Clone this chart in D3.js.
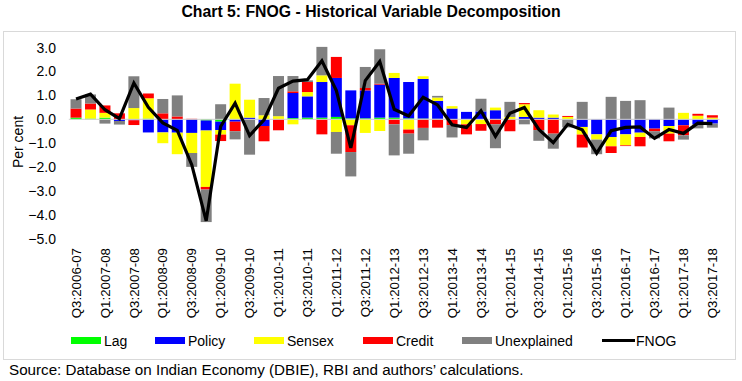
<!DOCTYPE html>
<html>
<head>
<meta charset="utf-8">
<script src="https://cdn.jsdelivr.net/npm/d3@7"></script>
<style>
  html, body { margin: 0; padding: 0; background: #fff; }
  svg { display: block; font-family: "Liberation Sans", Arial, sans-serif; }
</style>
</head>
<body>
<svg id="chart" width="742" height="381"></svg>
<script>
const quarters = [
  "Q3:2006-07","Q4:2006-07","Q1:2007-08","Q2:2007-08","Q3:2007-08","Q4:2007-08",
  "Q1:2008-09","Q2:2008-09","Q3:2008-09","Q4:2008-09",
  "Q1:2009-10","Q2:2009-10","Q3:2009-10","Q4:2009-10",
  "Q1:2010-11","Q2:2010-11","Q3:2010-11","Q4:2010-11",
  "Q1:2011-12","Q2:2011-12","Q3:2011-12","Q4:2011-12",
  "Q1:2012-13","Q2:2012-13","Q3:2012-13","Q4:2012-13",
  "Q1:2013-14","Q2:2013-14","Q3:2013-14","Q4:2013-14",
  "Q1:2014-15","Q2:2014-15","Q3:2014-15","Q4:2014-15",
  "Q1:2015-16","Q2:2015-16","Q3:2015-16","Q4:2015-16",
  "Q1:2016-17","Q2:2016-17","Q3:2016-17","Q4:2016-17",
  "Q1:2017-18","Q2:2017-18","Q3:2017-18"
];
const tickLabels = quarters.filter((q, i) => i % 2 === 0);

const lag = [0.07,0.03,0.07,0,0,0.03,0,0,0,-0.05,-0.1,0,0,0,0,0.05,0.07,0.07,0.1,0.04,0.04,0.07,0.07,0.04,0.03,0.02,0,0,0,0,0,0,0,0,0,0,0,0,0,0,0,0,0,0,0];
const policy = [0,0,0,-0.07,-0.04,-0.55,-0.55,-0.56,-0.57,-0.42,-0.35,-0.1,0.07,-0.28,0,1.05,0.89,1.49,1.63,1.17,1.17,1.38,1.66,1.52,1.66,0.75,0.45,0.31,0.33,0.38,0,0.1,0.07,0.07,0,-0.32,-0.63,-0.74,-0.63,-0.56,-0.39,-0.28,-0.25,-0.21,-0.18];
const sensex = [0,0.38,0.2,0,0.47,0.85,-0.45,-0.9,-0.84,-2.36,-0.19,1.49,0.75,0.17,0.13,-0.21,0.18,0.28,-0.53,-0.25,-0.57,-0.49,0.21,-0.43,0.11,0.14,0.1,-0.21,-0.2,0.11,0.1,0.53,0.31,0.13,0.1,-0.32,-0.22,-0.39,-0.46,-0.18,0,-0.32,0.27,0.15,0.07];
const credit = [0.38,0.25,0.31,0.25,-0.2,0.2,0.25,0.12,0.02,-0.11,-0.27,-0.4,0,-0.64,-0.46,0.07,0.42,-0.63,0.88,-1.12,0.1,0.04,-0.21,-0.17,-0.36,-0.35,-0.24,-0.42,-0.28,-0.21,-0.5,0.05,-0.45,-0.6,0.04,-0.54,0,-0.28,-0.03,-0.39,-0.11,-0.32,-0.42,0.08,0.1];
const unexplained = [0.39,0.38,-0.18,-0.15,1.33,0,0.6,0.88,-0.58,-1.36,0.63,-0.34,-1.48,0.72,1.68,0.64,0.07,1.19,-0.91,-1.02,0.88,1.44,-1.3,-0.84,-0.52,0.07,-0.52,0,0.53,-1.0,0.63,-0.21,-0.45,-0.63,-0.34,0.73,-0.61,0.94,0.77,0.8,-0.3,0.49,-0.18,-0.17,-0.17];
const fnog = [0.85,1.05,0.4,0.03,1.52,0.5,-0.15,-0.46,-1.9,-4.25,-0.3,0.68,-0.68,-0.02,1.3,1.6,1.66,2.45,1.2,-1.2,1.62,2.42,0.42,0.14,0.92,0.6,-0.23,-0.34,0.36,-0.71,0.25,0.49,-0.42,-0.98,-0.21,-0.44,-1.42,-0.48,-0.34,-0.32,-0.8,-0.43,-0.59,-0.16,-0.18];

const seriesNames = ["Lag","Policy","Sensex","Credit","Unexplained"];
const seriesColors = ["#00ff00","#0000ff","#ffff00","#ff0000","#808080"];
const yTicks = [3,2,1,0,-1,-2,-3,-4,-5];

const rows = quarters.map((q, i) => ({
  q, Lag: lag[i], Policy: policy[i], Sensex: sensex[i], Credit: credit[i], Unexplained: unexplained[i]
}));

const svg = d3.select("#chart");

// outer frame
svg.append("rect").attr("x", 3.5).attr("y", 31.5).attr("width", 732).attr("height", 328)
  .attr("fill", "none").attr("stroke", "#d9d9d9").attr("stroke-width", 1);

// title
svg.append("text").attr("x", 371).attr("y", 17).attr("text-anchor", "middle")
  .attr("font-size", 15.8).attr("font-weight", "bold").attr("fill", "#000")
  .text("Chart 5: FNOG - Historical Variable Decomposition");

const x = d3.scaleBand().domain(quarters).range([68.8, 719.6]).paddingInner(0.24).paddingOuter(0.12);
const y = d3.scaleLinear().domain([-5, 3]).range([238.8, 47.6]);

// stacked bars
const stack = d3.stack().keys(seriesNames).offset(d3.stackOffsetDiverging);
const stacked = stack(rows);

svg.append("g").selectAll("g").data(stacked).join("g")
  .attr("fill", (d, i) => seriesColors[i])
  .selectAll("rect").data(d => d).join("rect")
  .attr("x", d => x(d.data.q))
  .attr("width", x.bandwidth())
  .attr("y", d => y(Math.max(d[0], d[1])))
  .attr("height", d => Math.abs(y(d[0]) - y(d[1])));

// zero line
svg.append("line").attr("x1", 68.8).attr("x2", 719.6).attr("y1", y(0)).attr("y2", y(0))
  .attr("stroke", "#d0d0d0").attr("stroke-width", 1);

// FNOG line
const line = d3.line().x((d, i) => x(quarters[i]) + x.bandwidth() / 2).y(d => y(d));
svg.append("path").datum(fnog).attr("d", line)
  .attr("fill", "none").attr("stroke", "#000").attr("stroke-width", 3.2).attr("stroke-linejoin", "miter");

// y axis
const yAxis = d3.axisLeft(y).tickValues(yTicks).tickFormat(d3.format(".1f")).tickSize(0).tickPadding(0);
const yg = svg.append("g").attr("transform", "translate(56,0)").call(yAxis);
yg.select(".domain").remove();
yg.selectAll("text").attr("font-size", 14).attr("fill", "#000")
  .attr("font-family", "'Liberation Sans', Arial, sans-serif");

svg.append("text").attr("transform", "translate(23,142) rotate(-90)")
  .attr("text-anchor", "middle").attr("font-size", 14).attr("fill", "#000").text("Per cent");

// x axis
const xAxis = d3.axisBottom(x).tickValues(tickLabels).tickSize(0).tickPadding(0);
const xg = svg.append("g").attr("transform", "translate(0,248)").call(xAxis);
xg.select(".domain").remove();
xg.selectAll("text")
  .attr("font-size", 13.3).attr("fill", "#000")
  .attr("font-family", "'Liberation Sans', Arial, sans-serif")
  .attr("text-anchor", "end")
  .attr("transform", "rotate(-90)")
  .attr("x", 0).attr("y", 0).attr("dy", "0.35em");

// legend
const legendItems = [
  {name: "Lag", color: seriesColors[0], x: 71},
  {name: "Policy", color: seriesColors[1], x: 155},
  {name: "Sensex", color: seriesColors[2], x: 254},
  {name: "Credit", color: seriesColors[3], x: 363},
  {name: "Unexplained", color: seriesColors[4], x: 462}
];
const lg = svg.append("g");
legendItems.forEach(it => {
  lg.append("rect").attr("x", it.x).attr("y", 337).attr("width", 30).attr("height", 7).attr("fill", it.color);
  lg.append("text").attr("x", it.x + 33).attr("y", 345.5).attr("font-size", 14).attr("fill", "#000").text(it.name);
});
lg.append("line").attr("x1", 602).attr("x2", 635).attr("y1", 340.5).attr("y2", 340.5)
  .attr("stroke", "#000").attr("stroke-width", 3.2);
lg.append("text").attr("x", 636).attr("y", 345.5).attr("font-size", 14).attr("fill", "#000").text("FNOG");

// source
svg.append("text").attr("x", 9).attr("y", 375).attr("font-size", 15.2).attr("fill", "#000")
  .text("Source: Database on Indian Economy (DBIE), RBI and authors’ calculations.");
</script>
</body>
</html>
